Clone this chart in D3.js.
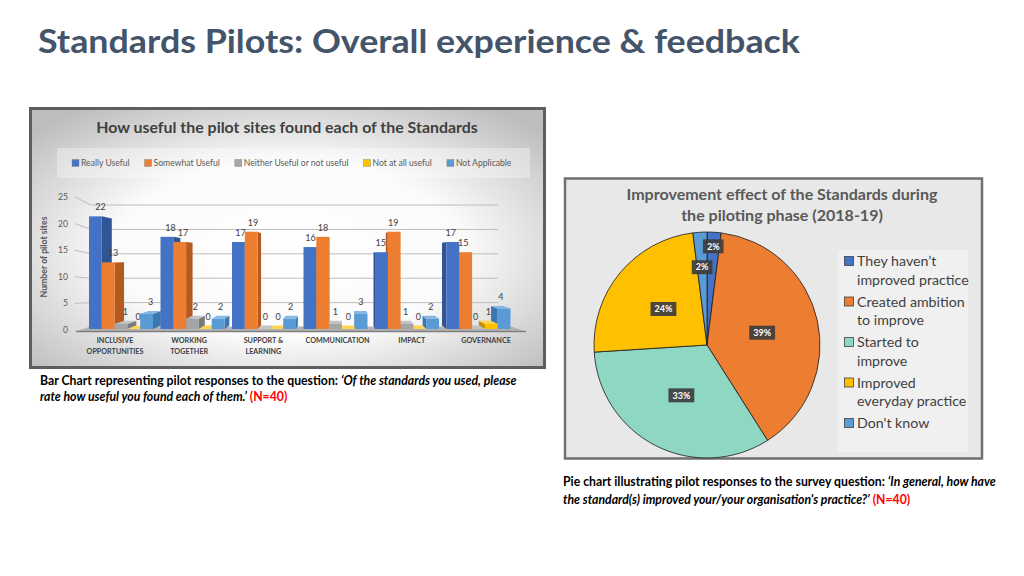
<!DOCTYPE html>
<html><head><meta charset="utf-8">
<script src="https://cdn.jsdelivr.net/npm/d3@7"></script>
<style>body{margin:0;background:#fff;} svg{display:block;font-family:Lato,"Open Sans",sans-serif;}</style>
</head><body><svg id="c" width="1024" height="576"></svg>
<script>
// ---------- DATA ----------
const categories = ["INCLUSIVE OPPORTUNITIES","WORKING TOGETHER","SUPPORT & LEARNING","COMMUNICATION","IMPACT","GOVERNANCE"];
const categoryLines = [["INCLUSIVE","OPPORTUNITIES"],["WORKING","TOGETHER"],["SUPPORT &","LEARNING"],["COMMUNICATION"],["IMPACT"],["GOVERNANCE"]];
const seriesNames = ["Really Useful","Somewhat Useful","Neither Useful or not useful","Not at all useful","Not Applicable"];
const reallyUseful   = [22,18,17,16,15,17];
const somewhatUseful = [13,17,19,18,19,15];
const neitherUseful  = [1,2,0,1,1,0];
const notAtAllUseful = [0,0,0,0,0,1];
const notApplicable  = [3,2,2,3,2,4];
const yTicks = [0,5,10,15,20,25];

const pieCategories = ["They haven’t improved practice","Created ambition to improve","Started to improve","Improved everyday practice","Don't know"];
const pieLegendLines = [["They haven’t","improved practice"],["Created ambition","to improve"],["Started to","improve"],["Improved","everyday practice"],["Don't know"]];
const piePercent = [2,39,33,24,2];

// ---------- SETUP ----------
const svg = d3.select('#c');
const defs = svg.append('defs');
function fit(sel, target){ const w = sel.node().getComputedTextLength(); const fs = parseFloat(sel.attr('font-size')); sel.attr('font-size', (fs*target/w).toFixed(2)); return sel; }

// main title
svg.append('text').attr('x',38).attr('y',53).attr('font-size',32).attr('font-weight',700)
  .attr('fill','#44546A').attr('textLength',762).attr('lengthAdjust','spacingAndGlyphs')
  .text('Standards Pilots: Overall experience & feedback');

// ---------- BAR CHART ----------
const rg = defs.append('radialGradient').attr('id','bg').attr('cx','50%').attr('cy','55%').attr('r','68%');
rg.append('stop').attr('offset','0%').attr('stop-color','#ffffff');
rg.append('stop').attr('offset','50%').attr('stop-color','#fbfbfb');
rg.append('stop').attr('offset','100%').attr('stop-color','#bdbdbd');
svg.append('rect').attr('x',30.5).attr('y',108.5).attr('width',514).attr('height',259)
  .attr('fill','url(#bg)').attr('stroke','#5e5e5e').attr('stroke-width',3);

fit(svg.append('text').attr('x',287).attr('y',133).attr('text-anchor','middle').attr('font-size',14)
  .attr('font-weight',700).attr('fill','#404040').text('How useful the pilot sites found each of the Standards'),382);

// legend
svg.append('rect').attr('x',57).attr('y',148).attr('width',473).attr('height',30).attr('fill','#ffffff').attr('opacity',0.35);
const front = ['#4472C4','#ED7D31','#A5A5A5','#FFC000','#5B9BD5'];
const side  = ['#2F5597','#B45A1E','#7A7A7A','#C09100','#3B78B0'];
const topc  = ['#6B90D6','#F39B5F','#C4C4C4','#FFD451','#86B7E4'];
let lx = 72;
seriesNames.forEach((s,j)=>{
  svg.append('rect').attr('x',lx).attr('y',159.5).attr('width',7).attr('height',7).attr('fill',front[j]).attr('stroke','#7f7f7f').attr('stroke-width',0.4);
  const t = svg.append('text').attr('x',lx+9).attr('y',166).attr('font-size',8.6).attr('fill','#595959').text(s);
  lx += 9 + t.node().getComputedTextLength() + 15;
});

// scales
const yF = d3.scaleLinear().domain([0,25]).range([330,197]);   // front (axis) plane
const yB = d3.scaleLinear().domain([0,25]).range([329,201]);   // bar plane
const x0 = d3.scaleBand().domain(categories).range([78,507]);
const x1 = d3.scaleBand().domain(seriesNames).range([11,75]);
const xLab = d3.scalePoint().domain(categories).range([115,486]);
const VX = 340, VY = 260, TX = 0.042, TY = 0.05;
const proj = (x,y)=>[x+(VX-x)*TX, y+(VY-y)*TY];
const wallY = y => y + (294-y)*0.083;

// gridlines + ticks
const grid = svg.append('g');
yTicks.forEach(v=>{
  if (v>0) grid.append('path').attr('d',`M75,${yF(v)}L91,${wallY(yF(v))}L498,${wallY(yF(v))}`)
    .attr('fill','none').attr('stroke','#bdbdbd').attr('stroke-width',1);
  grid.append('text').attr('x',68).attr('y',yF(v)+3).attr('text-anchor','end').attr('font-size',8.6)
    .attr('fill','#595959').text(v);
});
// floor
svg.append('path').attr('d',`M76,331.5L526,331.5L511,326.5L90,326.5Z`).attr('fill','#b3b3b3');
svg.append('path').attr('d',`M76,331.5L526,331.5`).attr('stroke','#808080').attr('stroke-width',1.5);

// y axis title
fit(svg.append('text').attr('transform','translate(47,257) rotate(-90)').attr('text-anchor','middle')
  .attr('font-size',8).attr('font-weight',700).attr('fill','#595959').text('Number of pilot sites'),81);

// bars
const seriesValues = [reallyUseful,somewhatUseful,neitherUseful,notAtAllUseful,notApplicable];
const bars = [];
categories.forEach((c,i)=>seriesNames.forEach((s,j)=>{
  const xl = x0(c)+x1(s), xr = xl + x1.bandwidth();
  bars.push({c,j,v:seriesValues[j][i],xl,xr,yt:yB(seriesValues[j][i]),yb:yB(0)});
}));
bars.sort((a,b)=>Math.abs((b.xl+b.xr)/2-VX)-Math.abs((a.xl+a.xr)/2-VX));
const gb = svg.append('g');
const poly = pts => 'M'+pts.map(p=>p.join(',')).join('L')+'Z';
bars.forEach(b=>{
  const g = gb.append('g');
  if (b.xr < VX) {
    g.append('path').attr('d',poly([[b.xr,b.yt],proj(b.xr,b.yt),proj(b.xr,b.yb),[b.xr,b.yb]])).attr('fill',side[b.j]);
  } else if (b.xl > VX) {
    g.append('path').attr('d',poly([[b.xl,b.yt],proj(b.xl,b.yt),proj(b.xl,b.yb),[b.xl,b.yb]])).attr('fill',side[b.j]);
  }
  if (b.yt > VY) {
    g.append('path').attr('d',poly([[b.xl,b.yt],[b.xr,b.yt],proj(b.xr,b.yt),proj(b.xl,b.yt)])).attr('fill',topc[b.j]);
  }
  g.append('rect').attr('x',b.xl).attr('y',b.yt).attr('width',b.xr-b.xl).attr('height',b.yb-b.yt).attr('fill',front[b.j]);
});
// data labels
bars.forEach(b=>{
  const sd = ((b.xl+b.xr)/2 < VX ? (VX-b.xr) : (VX-b.xl))*TX;
  const ty = Math.min(b.yt, proj(b.xl,b.yt)[1]);
  svg.append('text').attr('x',(b.xl+b.xr)/2+sd*0.5).attr('y',ty-6).attr('text-anchor','middle')
    .attr('font-size',9).attr('fill','#404040').text(b.v);
});
// category labels
categories.forEach((c,i)=>{
  categoryLines[i].forEach((ln,k)=>{
    svg.append('text').attr('x',xLab(c)).attr('y',343+k*11).attr('text-anchor','middle')
      .attr('font-size',7.2).attr('font-weight',700).attr('fill','#404040').text(ln);
  });
});

// caption bar
const cap1 = svg.append('text').attr('x',40).attr('y',385).attr('font-size',10.5).attr('font-weight',700).attr('fill','#000');
cap1.append('tspan').text('Bar Chart representing pilot responses to the question: ');
cap1.append('tspan').attr('font-style','italic').text('‘Of the standards you used, please');
fit(cap1,477);
const cap2 = svg.append('text').attr('x',40).attr('y',401).attr('font-size',cap1.attr('font-size')).attr('font-weight',700).attr('fill','#000');
cap2.append('tspan').attr('font-style','italic').text('rate how useful you found each of them.’');
cap2.append('tspan').attr('fill','#FF0000').text(' (N=40)');

// ---------- PIE CHART ----------
svg.append('rect').attr('x',565).attr('y',178.5).attr('width',417).attr('height',280)
  .attr('fill','#e8e8e8').attr('stroke','#707070').attr('stroke-width',2.5);
const pt1 = fit(svg.append('text').attr('x',782).attr('y',200).attr('text-anchor','middle').attr('font-size',15)
  .attr('font-weight',700).attr('fill','#595959').text('Improvement effect of the Standards during'),311);
svg.append('text').attr('x',782).attr('y',221).attr('text-anchor','middle').attr('font-size',pt1.attr('font-size'))
  .attr('font-weight',700).attr('fill','#595959').text('the piloting phase (2018-19)');

const pieColors = ['#4472C4','#ED7D31','#8ED7C3','#FFC000','#5B9BD5'];
const R = 113, cx = 707, cy = 345;
const pie = d3.pie().sort(null).value(d=>d)(piePercent);
const arc = d3.arc().innerRadius(0).outerRadius(R);
const gp = svg.append('g').attr('transform',`translate(${cx},${cy})`);
gp.selectAll('path').data(pie).join('path').attr('d',arc).attr('fill',(d,i)=>pieColors[i])
  .attr('stroke','#1a1a1a').attr('stroke-width',0.8);
pie.forEach((d,i)=>{
  const rr = d.data < 5 ? (i===0 ? 0.875*R : 0.69*R) : 0.5*R;
  const c = d3.arc().innerRadius(rr).outerRadius(rr).centroid(d);
  const g = gp.append('g').attr('transform',`translate(${c[0]},${c[1]})`);
  const r = g.append('rect').attr('fill','#3d3d3d').attr('opacity',0.92);
  const t = g.append('text').attr('y',3.2).attr('text-anchor','middle').attr('font-size',9).attr('font-weight',700)
    .attr('fill','#fff').text(d.data+'%');
  const w = t.node().getComputedTextLength()+8;
  r.attr('x',-w/2).attr('y',-7).attr('width',w).attr('height',14);
});

// pie legend
svg.append('rect').attr('x',838).attr('y',250).attr('width',130).attr('height',202).attr('fill','#f0f0f0');
let ly = 261;
pieLegendLines.forEach((lines,i)=>{
  svg.append('rect').attr('x',844.5).attr('y',ly-4.5).attr('width',9).attr('height',9).attr('fill',pieColors[i])
    .attr('stroke','#404040').attr('stroke-width',0.8);
  lines.forEach((ln,k)=>{
    svg.append('text').attr('x',857).attr('y',ly+5+k*18.5).attr('font-size',14.2).attr('fill','#404040').text(ln);
  });
  ly += lines.length*18.5 + 3.5;
});

// pie caption
const pc1 = svg.append('text').attr('x',563).attr('y',486).attr('font-size',10.5).attr('font-weight',700).attr('fill','#000');
pc1.append('tspan').text('Pie chart illustrating pilot responses to the survey question: ');
pc1.append('tspan').attr('font-style','italic').text('‘In general, how have');
fit(pc1,433);
const pc2 = svg.append('text').attr('x',563).attr('y',504).attr('font-size',pc1.attr('font-size')).attr('font-weight',700).attr('fill','#000');
pc2.append('tspan').attr('font-style','italic').text('the standard(s) improved your/your organisation\'s practice?’');
pc2.append('tspan').attr('fill','#FF0000').text(' (N=40)');
</script></body></html>
